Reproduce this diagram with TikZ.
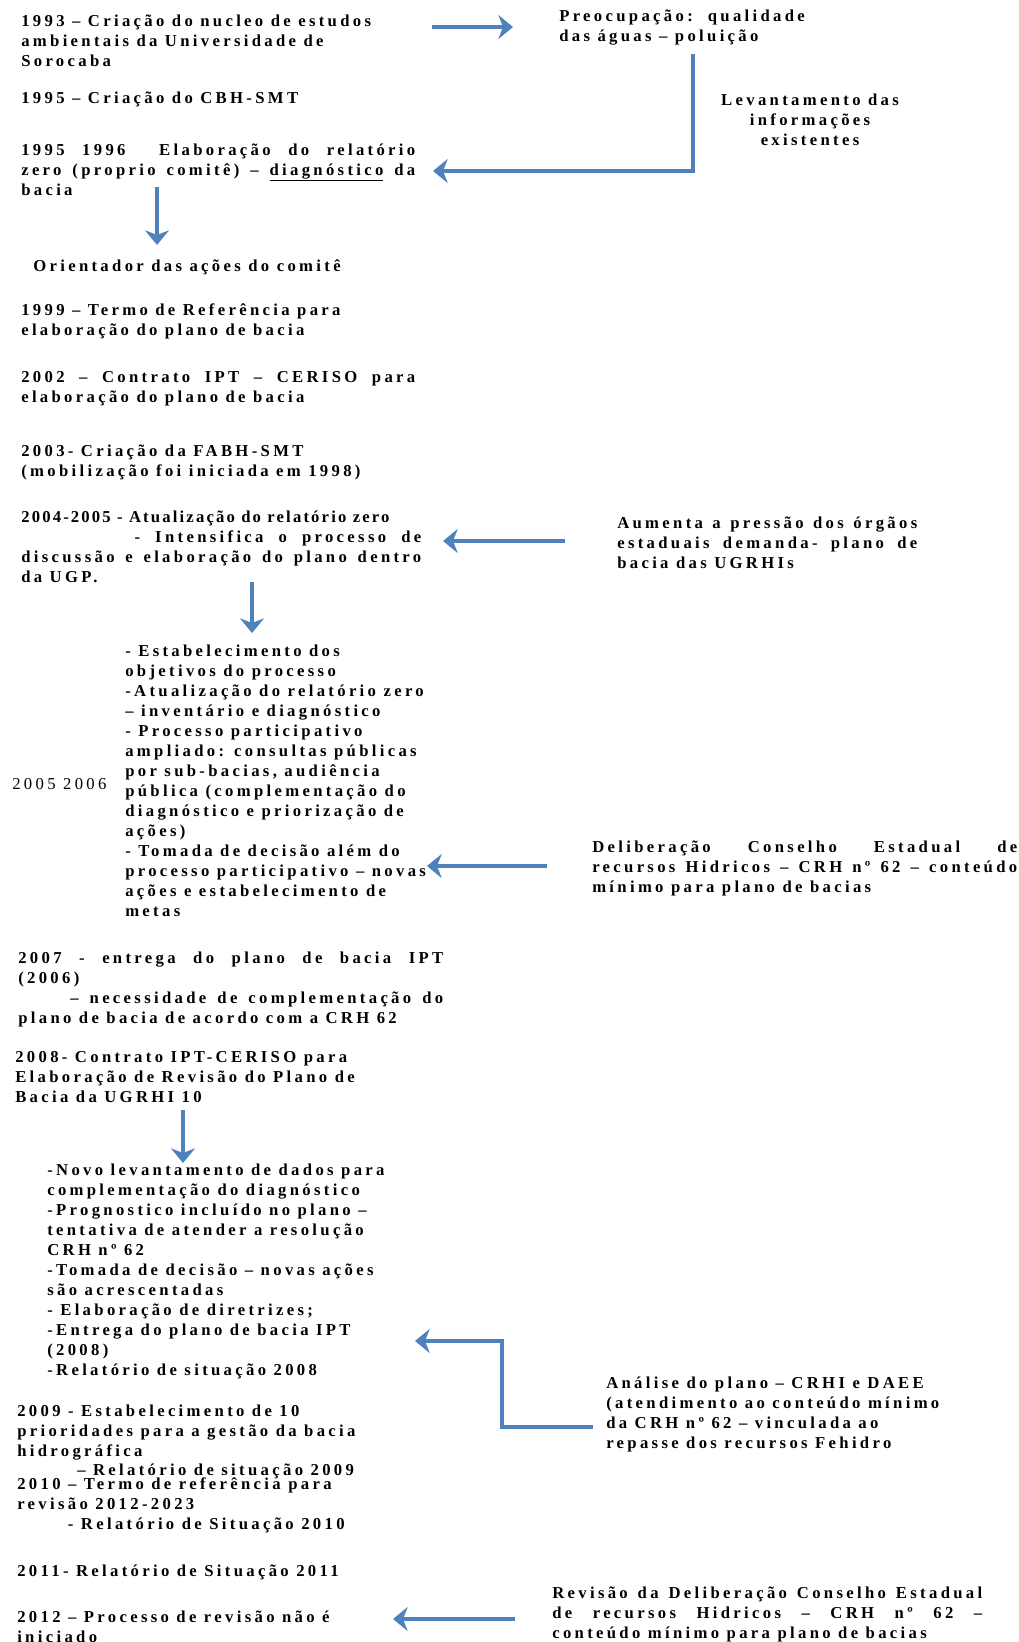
\documentclass[tikz,border=0pt]{standalone}
\usepackage{fontspec}
\newfontfamily\tf{Liberation Serif}[LetterSpace=20]
\usetikzlibrary{arrows.meta}
\definecolor{arrblue}{RGB}{79,129,189}
\begin{document}
\begin{tikzpicture}[x=0.75pt,y=-0.75pt,
  txt/.style={anchor=north west, inner sep=0pt, font=\tf\bfseries\fontsize{12.5}{15}\selectfont, execute at begin node={\rule{0pt}{13pt}}},
  jtxt/.style={txt, align=justify, text width=#1},
  ltxt/.style={txt, align=left},
  arr/.style={draw=arrblue, line width=3.5pt, -{Stealth[length=11pt,width=18pt,inset=3.5pt]}}]
\useasboundingbox (0,0) rectangle (1018,1642);

% texts
\node[ltxt] (t1993) at (21,15) {1993 – Criação do nucleo de estudos\\ambientais da Universidade de\\Sorocaba};
\node[ltxt] (tpre) at (559,10) {Preocupação:\ \ qualidade\\das águas – poluição};
\node[txt, anchor=north, align=center] (tlev) at (810,93.5) {Levantamento das\\informações\\existentes};
\node[ltxt] (t1995) at (21,86) {1995 – Criação do CBH-SMT};
\node[jtxt=295.5pt] (t1996) at (21,137.5) {1995 1996\hspace{12pt} Elaboração do relatório\linebreak zero (proprio comitê) – \underline{diagnóstico} da\linebreak bacia};
\node[ltxt] (tori) at (33,254) {Orientador das ações do comitê};
\node[ltxt] (t1999) at (21,303) {1999 – Termo de Referência para\\elaboração do plano de bacia};
\node[jtxt=295.5pt] (t2002) at (21,364.5) {2002 – Contrato IPT – CERISO para\linebreak elaboração do plano de bacia};
\node[ltxt] (t2003) at (21,444.5) {2003- Criação da FABH-SMT\\(mobilização foi iniciada em 1998)};
\node[jtxt=300pt] (t2004) at (21,505) {{\addfontfeatures{LetterSpace=13}2004-2005 - Atualização do relatório zero}\\\hspace*{85pt}- Intensifica o processo de\linebreak discussão e elaboração do plano dentro\linebreak da UGP.};
\node[jtxt=225pt] (taum) at (617,511) {Aumenta a pressão dos órgãos\linebreak estaduais demanda- plano de\linebreak bacia das UGRHIs};
\node[txt, font=\tf\fontsize{12.5}{15}\selectfont] (t0506) at (12,772) {2005 2006};
\node[ltxt] (tlist) at (125,644.5) {- Estabelecimento dos\\objetivos do processo\\-Atualização do relatório zero\\– inventário e diagnóstico\\- Processo participativo\\ampliado: consultas públicas\\por sub-bacias, audiência\\pública (complementação do\\diagnóstico e priorização de\\ações)\\- Tomada de decisão além do\\processo participativo – novas\\ações e estabelecimento de\\metas};
\node[jtxt=318.75pt] (tdel) at (592,835) {Deliberação Conselho Estadual de\linebreak recursos Hidricos – CRH nº 62 – conteúdo\linebreak mínimo para plano de bacias};
\node[jtxt=318.75pt] (t2007) at (18,946) {2007 - entrega do plano de bacia IPT\linebreak (2006)\\\hspace*{39pt}– necessidade de complementação do\linebreak plano de bacia de acordo com a CRH 62};
\node[ltxt] (t2008) at (15,1051) {2008- Contrato IPT-CERISO para\\Elaboração de Revisão do Plano de\\Bacia da UGRHI 10};
\node[ltxt] (tnovo) at (47,1164) {-Novo levantamento de dados para\\complementação do diagnóstico\\-Prognostico incluído no plano –\\tentativa de atender a resolução\\CRH nº 62\\-Tomada de decisão – novas ações\\são acrescentadas\\- Elaboração de diretrizes;\\-Entrega do plano de bacia IPT\\(2008)\\-Relatório de situação 2008};
\node[ltxt] (tana) at (606,1376.5) {Análise do plano – CRHI e DAEE\\(atendimento ao conteúdo mínimo\\da CRH nº 62 – vinculada ao\\repasse dos recursos Fehidro};
\node[ltxt] (t2009) at (17,1404.5) {2009 - Estabelecimento de 10\\prioridades para a gestão da bacia\\hidrográfica};
\node[ltxt] (t2009b) at (77,1458) {– Relatório de situação 2009};
\node[ltxt] (t2010) at (17,1477.5) {2010 – Termo de referência para\\revisão 2012-2023\\\hspace*{38pt}- Relatório de Situação 2010};
\node[ltxt] (t2011) at (17,1559) {2011- Relatório de Situação 2011};
\node[ltxt] (t2012) at (17,1611) {2012 – Processo de revisão não é\\iniciado};
\node[jtxt=322.5pt] (trev) at (552,1581) {Revisão da Deliberação Conselho Estadual\linebreak de recursos Hidricos – CRH nº 62 –\linebreak conteúdo mínimo para plano de bacias};

% connector ends
\coordinate (a1s) at (432,27);   \coordinate (a1e) at (513,27);
\coordinate (a2s) at (693,54);   \coordinate (a2e) at (433,171);
\coordinate (a3s) at (157,187);  \coordinate (a3e) at (157,245);
\coordinate (a4s) at (565,541);  \coordinate (a4e) at (443,541);
\coordinate (a5s) at (252,582);  \coordinate (a5e) at (252,633);
\coordinate (a6s) at (547,866);  \coordinate (a6e) at (427,866);
\coordinate (a7s) at (183,1110); \coordinate (a7e) at (183,1163);
\coordinate (a8s) at (593,1427); \coordinate (a8m) at (502,1341); \coordinate (a8e) at (415,1341);
\coordinate (a9s) at (515,1619); \coordinate (a9e) at (393,1619);

\draw[arr] (a1s) -- (a1e);
\draw[arr] (a2s) |- (a2e);
\draw[arr] (a3s) -- (a3e);
\draw[arr] (a4s) -- (a4e);
\draw[arr] (a5s) -- (a5e);
\draw[arr] (a6s) -- (a6e);
\draw[arr] (a7s) -- (a7e);
\draw[arr] (a8s) -| (a8m) -- (a8e);
\draw[arr] (a9s) -- (a9e);
\end{tikzpicture}
\end{document}
